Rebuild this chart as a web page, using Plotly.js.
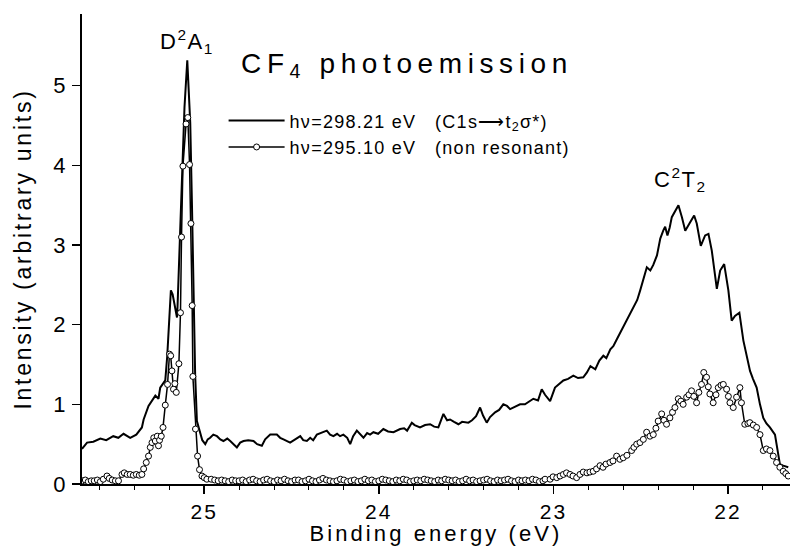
<!DOCTYPE html>
<html>
<head>
<meta charset="utf-8">
<script src="https://cdn.plot.ly/plotly-3.0.1.min.js"></script>
<style>
  html, body { margin: 0; padding: 0; background: #fff; }
  #chart { width: 790px; height: 546px; }
  text { letter-spacing: 0.07em; }
  .main-svg .gtitle { letter-spacing: 0.2em !important; }
  .main-svg .xtitle { letter-spacing: 0.14em !important; }
  .main-svg .ytitle { letter-spacing: 0.12em !important; }
  .main-svg .xtick text, .main-svg .ytick text { letter-spacing: 0.1em !important; }
</style>
</head>
<body>
<div id="chart"></div>
<script>
// Resonant spectrum, h nu = 298.21 eV (binding energy in eV, intensity in arbitrary units)
const energyResonant = [
  25.700, 25.671, 25.635, 25.595, 25.561, 25.521, 25.492, 25.462, 25.424, 25.389,
  25.357, 25.347, 25.319, 25.298, 25.280, 25.262, 25.252, 25.233, 25.223, 25.212,
  25.200, 25.191, 25.181, 25.169, 25.156, 25.153, 25.141, 25.128, 25.113, 25.097,
  25.080, 25.070, 25.061, 25.052, 25.042, 25.033, 25.023, 25.011, 24.994, 24.980,
  24.966, 24.948, 24.927, 24.908, 24.890, 24.868, 24.851, 24.834, 24.813, 24.794,
  24.775, 24.748, 24.718, 24.697, 24.670, 24.651, 24.622, 24.584, 24.565, 24.546,
  24.525, 24.508, 24.479, 24.450, 24.433, 24.412, 24.393, 24.376, 24.355, 24.330,
  24.298, 24.279, 24.260, 24.239, 24.222, 24.203, 24.181, 24.164, 24.147, 24.126,
  24.107, 24.088, 24.067, 24.050, 24.031, 24.004, 23.974, 23.947, 23.916, 23.878,
  23.855, 23.838, 23.811, 23.795, 23.764, 23.735, 23.706, 23.683, 23.659, 23.630,
  23.609, 23.592, 23.569, 23.544, 23.523, 23.487, 23.466, 23.443, 23.420, 23.403,
  23.382, 23.363, 23.334, 23.311, 23.287, 23.266, 23.248, 23.220, 23.191, 23.163,
  23.140, 23.115, 23.088, 23.067, 23.048, 23.019, 22.991, 22.968, 22.943, 22.916,
  22.886, 22.859, 22.829, 22.808, 22.788, 22.760, 22.737, 22.714, 22.697, 22.674,
  22.657, 22.636, 22.612, 22.579, 22.560, 22.541, 22.520, 22.503, 22.486, 22.465,
  22.445, 22.428, 22.407, 22.388, 22.371, 22.360, 22.347, 22.334, 22.322, 22.303,
  22.284, 22.264, 22.245, 22.216, 22.194, 22.179, 22.167, 22.156, 22.131, 22.112,
  22.093, 22.079, 22.064, 22.045, 22.022, 21.998, 21.979, 21.960, 21.935, 21.912,
  21.894, 21.874, 21.857, 21.836, 21.817, 21.798, 21.780, 21.760, 21.731, 21.717,
  21.703, 21.684, 21.655
];
const intensityResonant = [
  0.44, 0.52, 0.53, 0.57, 0.55, 0.60, 0.58, 0.63, 0.58, 0.62,
  0.71, 0.81, 0.98, 1.05, 1.11, 1.07, 1.21, 1.27, 1.30, 1.60,
  2.10, 2.43, 2.38, 2.25, 2.09, 2.22, 3.06, 3.90, 4.73, 5.32,
  4.53, 3.48, 2.22, 1.38, 0.79, 0.72, 0.63, 0.55, 0.50, 0.56,
  0.58, 0.62, 0.60, 0.56, 0.54, 0.57, 0.54, 0.50, 0.46, 0.52,
  0.54, 0.55, 0.54, 0.50, 0.48, 0.56, 0.62, 0.62, 0.58, 0.56,
  0.54, 0.52, 0.56, 0.60, 0.55, 0.54, 0.58, 0.55, 0.62, 0.64,
  0.67, 0.62, 0.60, 0.63, 0.60, 0.62, 0.58, 0.50, 0.60, 0.67,
  0.62, 0.58, 0.64, 0.62, 0.65, 0.63, 0.69, 0.66, 0.65, 0.69,
  0.70, 0.67, 0.77, 0.74, 0.71, 0.74, 0.75, 0.72, 0.71, 0.88,
  0.80, 0.81, 0.78, 0.75, 0.78, 0.77, 0.80, 0.85, 0.96, 0.86,
  0.77, 0.84, 0.90, 0.93, 1.00, 0.98, 0.94, 0.97, 1.00, 1.00,
  1.03, 1.07, 1.05, 1.19, 1.12, 1.04, 1.21, 1.25, 1.30, 1.32,
  1.36, 1.33, 1.34, 1.40, 1.48, 1.44, 1.55, 1.61, 1.58, 1.69,
  1.73, 1.82, 1.92, 2.05, 2.13, 2.22, 2.31, 2.43, 2.55, 2.72,
  2.68, 2.75, 2.87, 3.08, 3.18, 3.23, 3.12, 3.22, 3.35, 3.43,
  3.50, 3.35, 3.18, 3.29, 3.37, 3.27, 3.10, 2.99, 3.12, 3.14,
  2.93, 2.70, 2.45, 2.68, 2.76, 2.43, 2.05, 2.11, 2.15, 1.80,
  1.60, 1.42, 1.32, 1.21, 1.00, 0.83, 0.76, 0.71, 0.62, 0.45,
  0.25, 0.23, 0.21
];

// Non-resonant spectrum, h nu = 295.10 eV
const energyNonResonant = [
  25.698, 25.681, 25.664, 25.647, 25.630, 25.612, 25.595, 25.578, 25.557, 25.544,
  25.527, 25.509, 25.491, 25.471, 25.458, 25.441, 25.424, 25.406, 25.389, 25.372,
  25.357, 25.347, 25.332, 25.319, 25.309, 25.299, 25.289, 25.280, 25.269, 25.262,
  25.256, 25.246, 25.236, 25.223, 25.210, 25.199, 25.192, 25.185, 25.176, 25.168,
  25.160, 25.145, 25.136, 25.130, 25.122, 25.104, 25.094, 25.084, 25.076, 25.069,
  25.065, 25.050, 25.038, 25.027, 25.013, 25.000, 24.985,
  24.96, 24.94, 24.92, 24.90, 24.88, 24.86, 24.84, 24.82, 24.80, 24.78,
  24.76, 24.74, 24.72, 24.70, 24.68, 24.66, 24.64, 24.62, 24.60, 24.58,
  24.56, 24.54, 24.52, 24.50, 24.48, 24.46, 24.44, 24.42, 24.40, 24.38,
  24.36, 24.34, 24.32, 24.30, 24.28, 24.26, 24.24, 24.22, 24.20, 24.18,
  24.16, 24.14, 24.12, 24.10, 24.08, 24.06, 24.04, 24.02, 24.00, 23.98,
  23.96, 23.94, 23.92, 23.90, 23.88, 23.86, 23.84, 23.82, 23.80, 23.78,
  23.76, 23.74, 23.72, 23.70, 23.68, 23.66, 23.64, 23.62, 23.60, 23.58,
  23.56, 23.54, 23.52, 23.50, 23.48, 23.46, 23.44, 23.42, 23.40, 23.38,
  23.36, 23.34, 23.32, 23.30, 23.28, 23.26, 23.24, 23.22, 23.20, 23.18,
  23.16, 23.14, 23.12, 23.10, 23.08, 23.06,
  23.048, 23.019, 23.002, 22.981, 22.962, 22.943, 22.925, 22.905, 22.888, 22.867,
  22.848, 22.829, 22.808, 22.791, 22.772, 22.753, 22.733, 22.716, 22.699, 22.676,
  22.659, 22.638, 22.619, 22.600, 22.579, 22.552, 22.539, 22.523, 22.504, 22.485,
  22.466, 22.447, 22.428, 22.413, 22.400, 22.380, 22.367, 22.352, 22.333, 22.318,
  22.304, 22.285, 22.270, 22.257, 22.237, 22.224, 22.209, 22.196, 22.180, 22.167,
  22.152, 22.139, 22.123, 22.113, 22.104, 22.085, 22.069, 22.056, 22.040, 22.027,
  22.008, 21.998, 21.989, 21.970, 21.951, 21.932, 21.923, 21.904, 21.886, 21.875,
  21.855, 21.836, 21.817, 21.798, 21.780, 21.760, 21.741, 21.722, 21.703, 21.684,
  21.669, 21.655
];
const intensityNonResonant = [
  0.04, 0.05, 0.03, 0.04, 0.04, 0.05, 0.03, 0.06, 0.10, 0.07,
  0.05, 0.04, 0.04, 0.12, 0.14, 0.12, 0.12, 0.11, 0.12, 0.11,
  0.12, 0.19, 0.27, 0.35, 0.46, 0.52, 0.58, 0.54, 0.60, 0.48,
  0.55, 0.60, 0.71, 0.99, 1.25, 1.63, 1.61, 1.42, 1.19, 1.26,
  1.15, 1.51, 2.15, 3.10, 3.99, 4.52, 4.60, 4.01, 3.27, 2.24,
  1.35, 0.69, 0.35, 0.18, 0.10, 0.08, 0.06,
  0.06, 0.05, 0.04, 0.05, 0.04, 0.03, 0.05, 0.04, 0.04, 0.05,
  0.03, 0.05, 0.06, 0.04, 0.03, 0.05, 0.06, 0.04, 0.03, 0.05,
  0.04, 0.06, 0.04, 0.03, 0.05, 0.05, 0.03, 0.04, 0.06, 0.04,
  0.03, 0.05, 0.07, 0.05, 0.04, 0.03, 0.04, 0.06, 0.05, 0.03,
  0.04, 0.05, 0.03, 0.04, 0.06, 0.04, 0.05, 0.03, 0.04, 0.06,
  0.05, 0.04, 0.03, 0.05, 0.04, 0.06, 0.05, 0.03, 0.04, 0.05,
  0.04, 0.06, 0.05, 0.04, 0.03, 0.05, 0.04, 0.06, 0.05, 0.04,
  0.05, 0.03, 0.04, 0.06, 0.04, 0.05, 0.03, 0.04, 0.05, 0.06,
  0.04, 0.03, 0.05, 0.04, 0.05, 0.06, 0.04, 0.03, 0.05, 0.04,
  0.05, 0.04, 0.06, 0.05, 0.03, 0.04,
  0.06, 0.06, 0.09, 0.08, 0.10, 0.12, 0.14, 0.12, 0.10, 0.08,
  0.12, 0.15, 0.14, 0.15, 0.16, 0.19, 0.23, 0.21, 0.25, 0.27,
  0.29, 0.35, 0.31, 0.33, 0.36, 0.42, 0.46, 0.50, 0.52, 0.56,
  0.65, 0.60, 0.62, 0.70, 0.79, 0.88, 0.80, 0.75, 0.83, 0.90,
  0.96, 1.07, 1.04, 1.00, 1.09, 1.12, 1.17, 1.10, 1.02, 1.15,
  1.25, 1.40, 1.34, 1.22, 1.13, 1.02, 1.12, 1.21, 1.24, 1.25,
  1.19, 1.10, 1.02, 0.96, 1.09, 1.21, 1.02, 0.75, 0.76, 0.77,
  0.74, 0.71, 0.62, 0.42, 0.44, 0.42, 0.35, 0.27, 0.21, 0.16,
  0.13, 0.10
];

const xTickVals = [25, 24, 23, 22];
const xTickText = ['25', '24', '23', '22'];
const yTickVals = [0, 1, 2, 3, 4, 5];
const yTickText = ['0', '1', '2', '3', '4', '5'];

const seriesNames = [
  'h\u03bd=298.21 eV\u00a0\u00a0\u00a0(C1s\u27f6t<sub>2</sub>\u03c3*)',
  'h\u03bd=295.10 eV\u00a0\u00a0\u00a0(non resonant)'
];

const FONT = 'Liberation Sans, Arial, Helvetica, sans-serif';

const traces = [
  {
    x: energyResonant, y: intensityResonant,
    type: 'scatter', mode: 'lines', name: seriesNames[0],
    line: { color: '#000', width: 2 },
    xaxis: 'x', yaxis: 'y'
  },
  {
    x: energyNonResonant, y: intensityNonResonant,
    type: 'scatter', mode: 'lines+markers', name: seriesNames[1],
    line: { color: '#000', width: 1.5 },
    marker: { symbol: 'circle', size: 6, color: '#fff', line: { color: '#000', width: 1 } },
    xaxis: 'x', yaxis: 'y'
  }
];

const layout = {
  width: 790, height: 546,
  margin: { l: 82, r: 0, t: 14, b: 62, pad: 0 },
  paper_bgcolor: '#fff', plot_bgcolor: '#fff',
  font: { family: FONT, color: '#000', size: 20 },
  title: {
    text: 'CF<sub>4</sub> photoemission',
    font: { family: FONT, size: 28, color: '#000' },
    xref: 'paper', x: 0.459, xanchor: 'center',
    yref: 'container', y: 0.885, yanchor: 'middle'
  },
  showlegend: true,
  legend: {
    x: 0.2, xanchor: 'left', y: 0.812, yanchor: 'top',
    bgcolor: 'rgba(0,0,0,0)', borderwidth: 0,
    font: { family: FONT, size: 18, color: '#000' },
    itemwidth: 56,
    tracegroupgap: 0
  },
  xaxis: {
    range: [25.70, 21.645], autorange: false,
    tickmode: 'array', tickvals: xTickVals, ticktext: xTickText,
    ticks: 'outside', ticklen: 8, tickwidth: 1.5, tickcolor: '#000',
    minor: { dtick: 0.2, ticks: 'outside', ticklen: 4, tickwidth: 1, tickcolor: '#000', showgrid: false },
    showline: true, linecolor: '#000', linewidth: 2, mirror: false,
    showgrid: false, zeroline: false,
    tickfont: { family: FONT, size: 21, color: '#000' },
    title: { text: 'Binding energy (eV)', font: { family: FONT, size: 22, color: '#000' }, standoff: 0 }
  },
  xaxis2: {
    overlaying: 'x', matches: 'x', side: 'top', anchor: 'y',
    range: [25.70, 21.645], autorange: false,
    tick0: 22, dtick: 1,
    ticks: 'inside', ticklen: 4, tickwidth: 1, tickcolor: '#000',
    minor: { dtick: 0.2, ticks: 'inside', ticklen: 2, tickwidth: 1, tickcolor: '#000' },
    showline: true, linecolor: '#000', linewidth: 2,
    showgrid: false, zeroline: false, showticklabels: false
  },
  yaxis: {
    range: [0, 5.9], autorange: false,
    tickmode: 'array', tickvals: yTickVals, ticktext: yTickText,
    ticks: 'outside', ticklen: 8, tickwidth: 1.5, tickcolor: '#000',
    showline: true, linecolor: '#000', linewidth: 2,
    showgrid: false, zeroline: false,
    tickfont: { family: FONT, size: 22, color: '#000' },
    title: { text: 'Intensity (arbitrary units)', font: { family: FONT, size: 23, color: '#000' }, standoff: 16 }
  },
  annotations: [
    {
      text: 'D<sup>2</sup>A<sub>1</sub>', xref: 'x', yref: 'paper',
      x: 25.10, y: 1.0 - (41 - 14) / 470, xanchor: 'center', yanchor: 'middle',
      showarrow: false, font: { family: FONT, size: 22, color: '#000' }
    },
    {
      text: 'C<sup>2</sup>T<sub>2</sub>', xref: 'x', yref: 'paper',
      x: 22.27, y: 1.0 - (179 - 14) / 470, xanchor: 'center', yanchor: 'middle',
      showarrow: false, font: { family: FONT, size: 22, color: '#000' }
    }
  ]
};

Plotly.newPlot('chart', traces, layout, { displayModeBar: false, staticPlot: true });
</script>
</body>
</html>
